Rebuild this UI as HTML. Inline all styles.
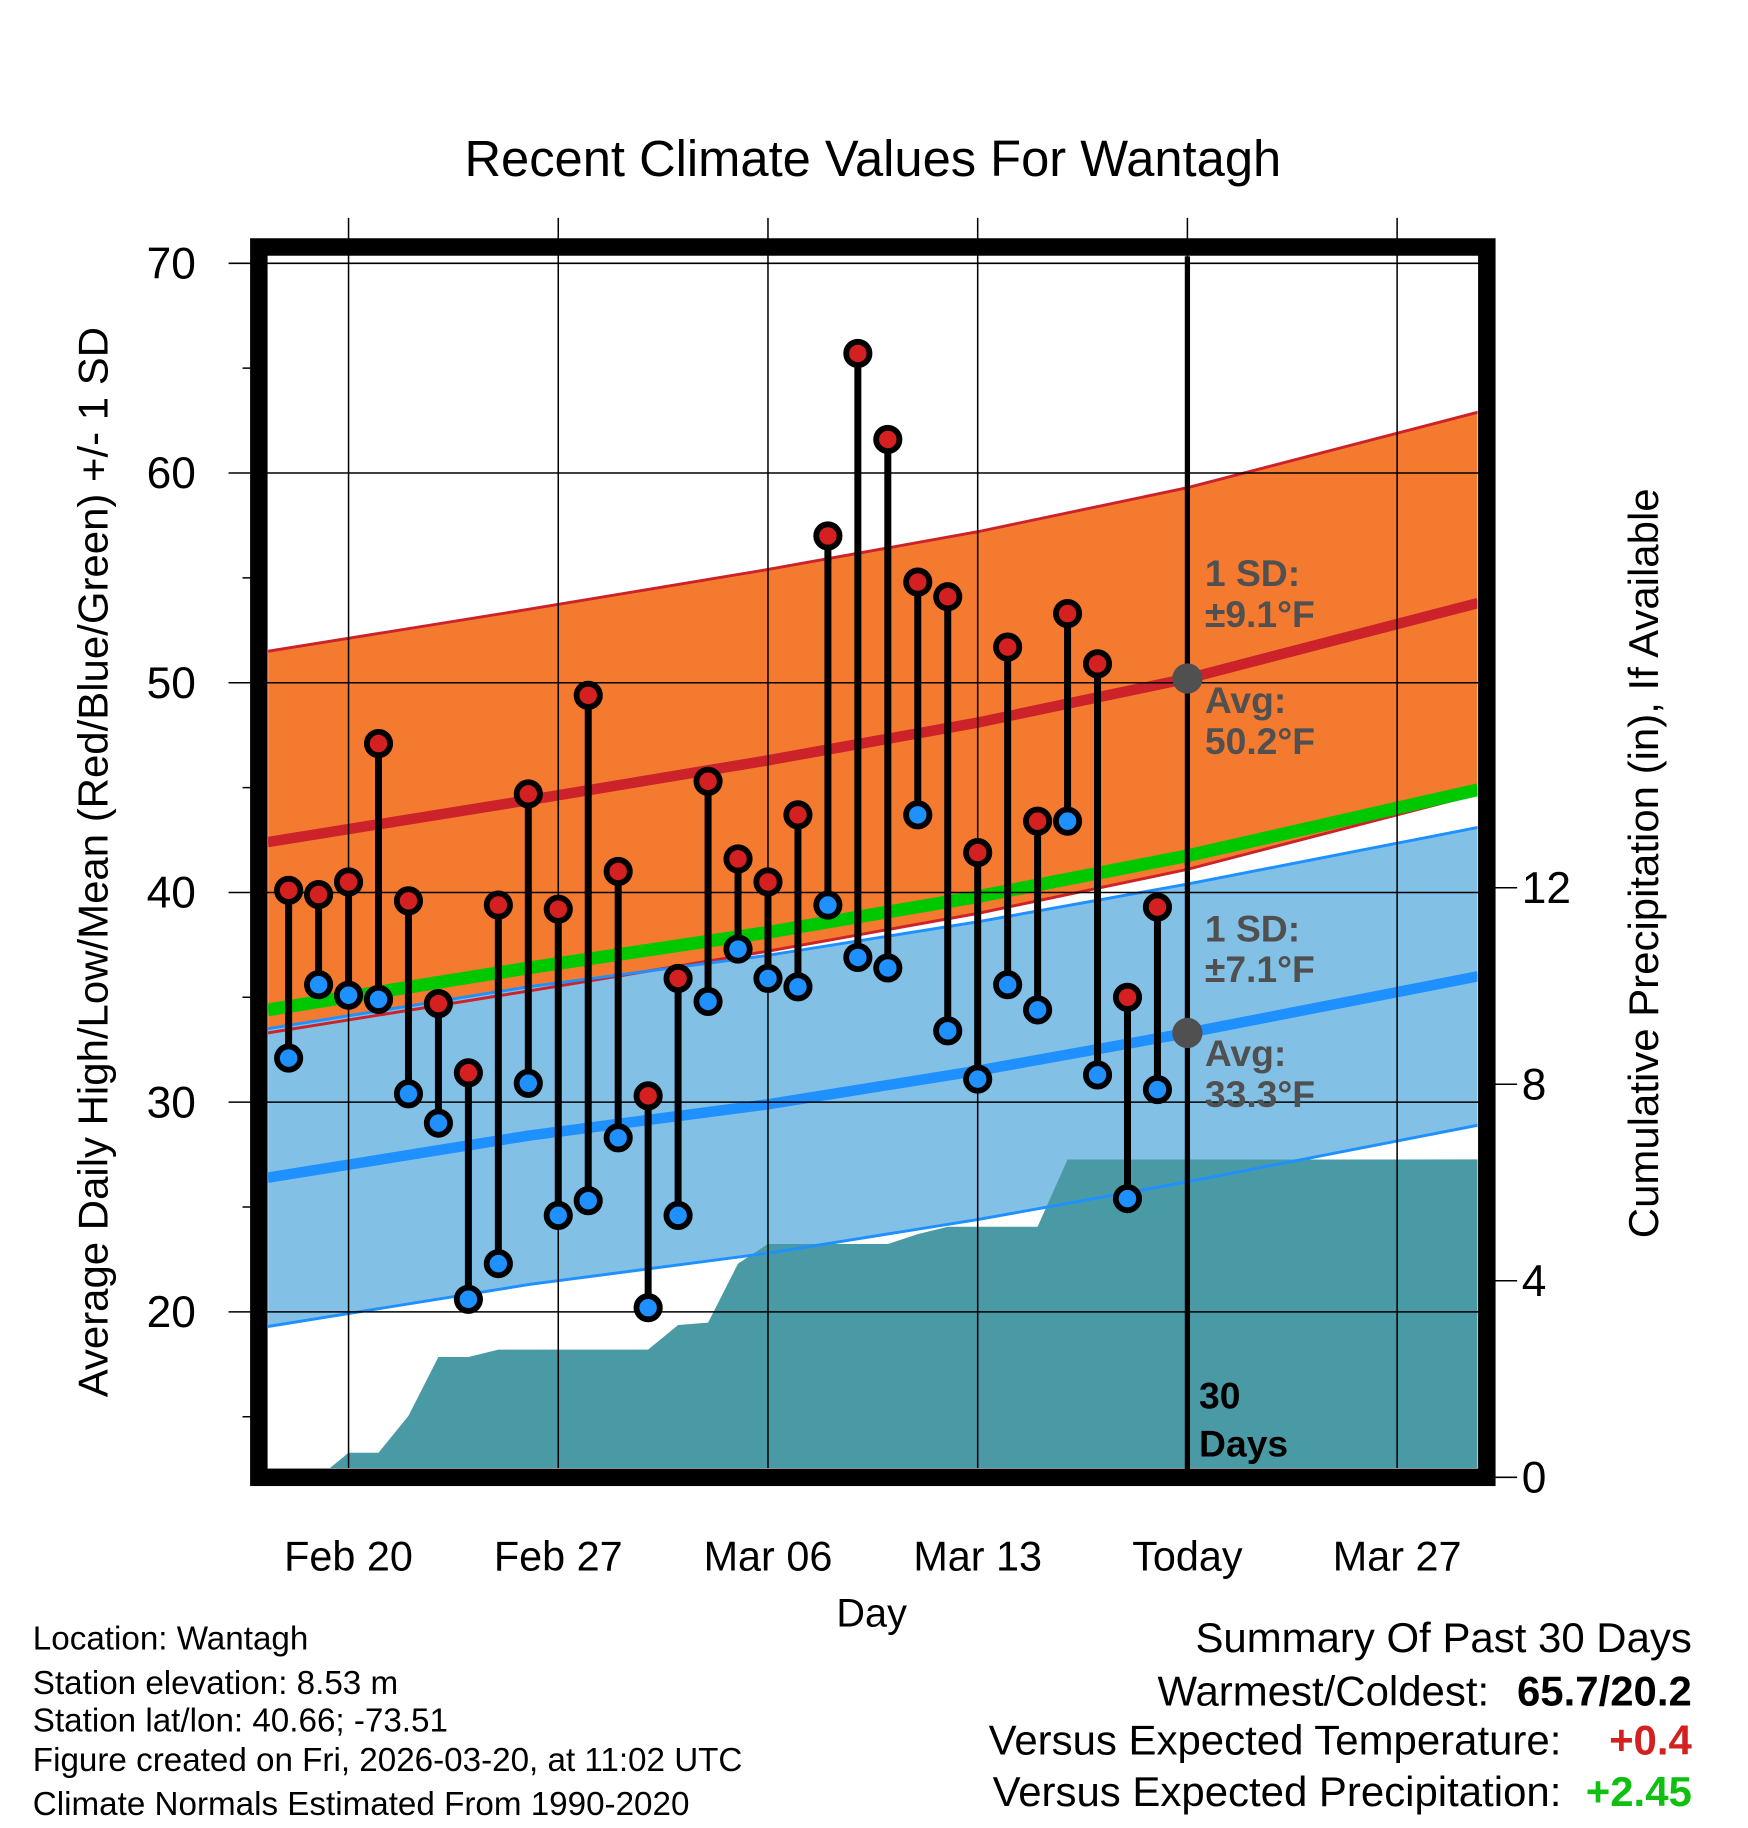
<!DOCTYPE html>
<html><head><meta charset="utf-8"><style>
html,body{margin:0;padding:0;background:#fff;}
svg{display:block;font-family:"Liberation Sans",sans-serif;}
</style></head><body>
<svg id="chart" width="1748" height="1828" viewBox="0 0 1500 1569" xmlns="http://www.w3.org/2000/svg">
<defs><clipPath id="plotClip"><rect x="230" y="220" width="1038" height="1040"/></clipPath></defs>
<text x="749" y="151" font-size="43.5" text-anchor="middle">Recent Climate Values For Wantagh</text>
<g id="plot" clip-path="url(#plotClip)"></g>
<g id="axes"></g>
<text transform="translate(92,740) rotate(-90)" font-size="36" text-anchor="middle">Average Daily High/Low/Mean (Red/Blue/Green) +/- 1 SD</text>
<text transform="translate(1423,741) rotate(-90)" font-size="36" text-anchor="middle">Cumulative Precipitation (in), If Available</text>
<text x="748" y="1396" font-size="34" text-anchor="middle">Day</text>
<g font-size="28.5">
<text x="28" y="1416">Location: Wantagh</text>
<text x="28" y="1454">Station elevation: 8.53 m</text>
<text x="28" y="1486">Station lat/lon: 40.66; -73.51</text>
<text x="28" y="1520">Figure created on Fri, 2026-03-20, at 11:02 UTC</text>
<text x="28" y="1558">Climate Normals Estimated From 1990-2020</text>
</g>
<g font-size="36" text-anchor="end">
<text x="1452" y="1418">Summary Of Past 30 Days</text>
<text x="1278" y="1464">Warmest/Coldest:</text>
<text x="1452" y="1464" font-weight="bold">65.7/20.2</text>
<text x="1340" y="1506">Versus Expected Temperature:</text>
<text x="1452" y="1506" font-weight="bold" fill="#d42020">+0.4</text>
<text x="1340" y="1550">Versus Expected Precipitation:</text>
<text x="1452" y="1550" font-weight="bold" fill="#10c010">+2.45</text>
</g>
</svg>
<script>
const days=[-2,-1,0,1,2,3,4,5,6,7,8,9,10,11,12,13,14,15,16,17,18,19,20,21,22,23,24,25,26,27];
const highs=[40.1,39.9,40.5,47.1,39.6,34.7,31.4,39.4,44.7,39.2,49.4,41.0,30.3,35.9,45.3,41.6,40.5,43.7,57.0,65.7,61.6,54.8,54.1,41.9,51.7,43.4,53.3,50.9,35.0,39.3];
const lows=[32.1,35.6,35.1,34.9,30.4,29.0,20.6,22.3,30.9,24.6,25.3,28.3,20.2,24.6,34.8,37.3,35.9,35.5,39.4,36.9,36.4,43.7,33.4,31.1,35.6,34.4,43.4,31.3,25.4,30.6];
const precip=[0,0,0.5,0.5,1.25,2.45,2.45,2.6,2.6,2.6,2.6,2.6,2.6,3.1,3.15,4.35,4.75,4.75,4.75,4.75,4.75,4.95,5.1,5.1,5.1,5.1,6.47,6.47,6.47,6.47];
const normDays=[-2.7,6,14,21,28,37.7];
const normHigh=[42.4,44.4,46.3,48.1,50.2,53.8];
const normLow=[26.4,28.4,29.9,31.5,33.3,36.0];
const sdHigh=9.1, sdLow=7.1;
const yTicks=[20,30,40,50,60,70];
const y2Ticks=[0,4,8,12];
const xTickDays=[0,7,14,21,28,35];
const xTickLabels=["Feb 20","Feb 27","Mar 06","Mar 13","Today","Mar 27"];
const todayDay=28;

const NS="http://www.w3.org/2000/svg";
const X=d=>299+d*180/7;
const Y=v=>226+(70-v)*18;
const YP=p=>1268-p*42.17;
function mk(tag,attrs,parent){const e=document.createElementNS(NS,tag);for(const k in attrs)e.setAttribute(k,attrs[k]);parent.appendChild(e);return e;}
const plot=document.getElementById('plot'), axes=document.getElementById('axes');
function line(vals,off){return normDays.map((d,i)=>X(d).toFixed(1)+','+Y(vals[i]+off).toFixed(1));}
function band(vals,sd){return line(vals,sd).concat(line(vals,-sd).reverse()).join(' ');}
let e;
e=mk('polygon',{points:band(normHigh,sdHigh),fill:'#f47a30'},plot);

e=mk('polygon',{points:band(normLow,sdLow),fill:'#82c0e6'},plot);

let pp=days.map((d,i)=>X(d).toFixed(1)+','+YP(precip[i]).toFixed(1));
pp.push(X(38)+','+YP(precip[precip.length-1]));pp.push(X(38)+','+YP(-1));pp.push(X(days[0])+','+YP(-1));
e=mk('polygon',{points:pp.join(' '),fill:'#4a9aa5'},plot);

const lines=[[normHigh,sdHigh,'#cc2229',2.5,'high-upper-sd'],[normHigh,-sdHigh,'#cc2229',2.5,'high-lower-sd'],[normLow,sdLow,'#1e90ff',2.5,'low-upper-sd'],[normLow,-sdLow,'#1e90ff',2.5,'low-lower-sd'],[normHigh,0,'#cc2229',9,'avg-high-line'],[normLow,0,'#1e90ff',9,'avg-low-line']];
lines.forEach(l=>{const el=mk('polyline',{points:line(l[0],l[1]).join(' '),fill:'none',stroke:l[2],'stroke-width':l[3]},plot);

});
const meanVals=normHigh.map((v,i)=>(v+normLow[i])/2);
e=mk('polyline',{points:line(meanVals,0).join(' '),fill:'none',stroke:'#00c800','stroke-width':11},plot);

yTicks.forEach(v=>{const g=mk('line',{x1:196,x2:1270,y1:Y(v),y2:Y(v),stroke:'#000','stroke-width':1.3},axes);

const t=mk('text',{x:168,y:Y(v)+13,'font-size':38,'text-anchor':'end'},axes);t.textContent=v;
});
for(let v=15;v<70;v+=10){const m=mk('line',{x1:208,x2:222,y1:Y(v),y2:Y(v),stroke:'#000','stroke-width':1.3},axes);
}
y2Ticks.forEach(p=>{const g=mk('line',{x1:1276,x2:1302,y1:YP(p),y2:YP(p),stroke:'#000','stroke-width':1.3},axes);

const t=mk('text',{x:1306,y:YP(p)+13,'font-size':38},axes);t.textContent=p;
});
xTickDays.forEach((d,i)=>{const g=mk('line',{x1:X(d),x2:X(d),y1:187,y2:1260,stroke:'#000','stroke-width':1.3},axes);

const t=mk('text',{x:X(d),y:1348,'font-size':35.5,'text-anchor':'middle'},axes);t.textContent=xTickLabels[i];
});
e=mk('line',{x1:X(todayDay),x2:X(todayDay),y1:220,y2:1262,stroke:'#000','stroke-width':4.5},axes);

days.forEach((d,i)=>{const s=mk('line',{x1:X(d),x2:X(d),y1:Y(highs[i]),y2:Y(lows[i]),stroke:'#000','stroke-width':6},axes);
});
days.forEach((d,i)=>{
const h=mk('circle',{cx:X(d),cy:Y(highs[i]),r:10,fill:'#d42020',stroke:'#000','stroke-width':5},axes);

const l=mk('circle',{cx:X(d),cy:Y(lows[i]),r:10,fill:'#1e90ff',stroke:'#000','stroke-width':5},axes);
});
function interp(arr,d){for(let i=0;i<normDays.length-1;i++){if(d<=normDays[i+1]){const f=(d-normDays[i])/(normDays[i+1]-normDays[i]);return arr[i]+f*(arr[i+1]-arr[i]);}}return arr[arr.length-1];}
[[normHigh,'today-avg-high-dot'],[normLow,'today-avg-low-dot']].forEach(a=>{const c=mk('circle',{cx:X(todayDay),cy:Y(interp(a[0],todayDay)),r:13,fill:'#505050'},axes);
});
const ann=[["1 SD:",503],["±9.1°F",538],["Avg:",612],["50.2°F",647],["1 SD:",808],["±7.1°F",843],["Avg:",915],["33.3°F",950]];
ann.forEach(a=>{const t=mk('text',{x:1034,y:a[1],'font-size':32,'font-weight':'bold',fill:'#505050'},axes);t.textContent=a[0];
});
[["30",1209],["Days",1250]].forEach(a=>{const t=mk('text',{x:1029,y:a[1],'font-size':32,'font-weight':'bold',fill:'#000'},axes);t.textContent=a[0];
});
e=mk('rect',{x:222,y:212,width:1054,height:1056,fill:'none',stroke:'#000','stroke-width':15},axes);

</script>
</body></html>
